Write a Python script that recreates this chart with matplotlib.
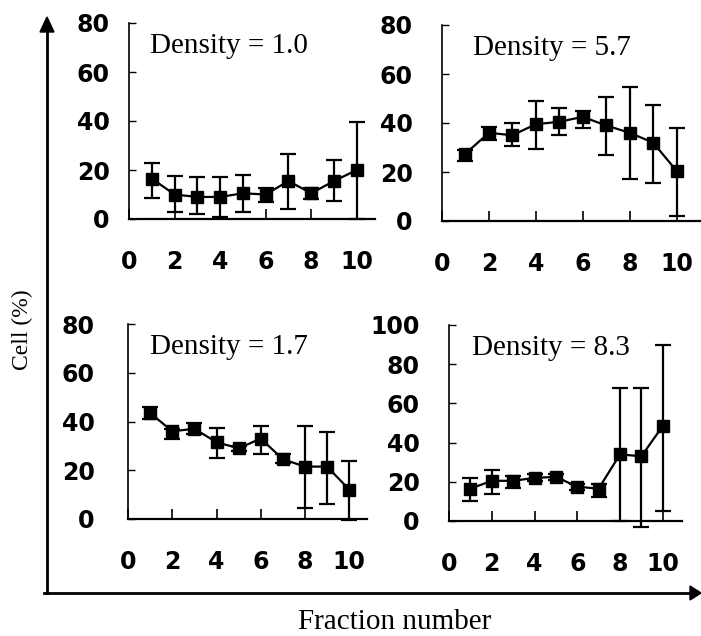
import matplotlib.pyplot as plt
from matplotlib.patches import Polygon

fractions = [1, 2, 3, 4, 5, 6, 7, 8, 9, 10]

# density 1.0
d10_mean = [16.5, 10, 9, 9, 10.5, 10, 15.5, 10.5, 15.5, 20]
d10_low = [8.5, 3, 2, 1, 3, 7, 4, 8, 7.5, 0]
d10_high = [23, 17.5, 17, 17, 18, 12.5, 26.5, 12.5, 24, 39.5]

# density 5.7
d57_mean = [27.5, 36, 35, 39.5, 40.5, 42.5, 39, 36, 32, 20.5]
d57_low = [24.5, 33, 30.5, 29.5, 35, 38, 27, 17, 15.5, 2]
d57_high = [29, 38.5, 40, 49, 46, 45, 50.5, 54.5, 47.5, 38]

# density 1.7
d17_mean = [43.5, 36, 37, 31.5, 29, 33, 24.5, 21.5, 21.5, 12]
d17_low = [41, 33, 35, 25, 28, 26.5, 23, 4.5, 6, -0.5]
d17_high = [46, 37, 39.5, 37.5, 30, 38, 26.5, 38, 35.5, 24]

# density 8.3
d83_mean = [16.5, 20.5, 20.5, 22, 22.5, 17.5, 16.5, 34, 33, 48.5]
d83_low = [10, 14, 17, 20.5, 21, 16, 12, 0, -3, 5]
d83_high = [22, 26, 23, 24, 24, 19, 19, 68, 68, 90]

W, H = 701, 636
fig = plt.figure(figsize=(W / 100, H / 100), dpi=100)

serif = "Liberation Serif"


def px_axes(left, right, top, bottom):
    return fig.add_axes([left / W, 1 - bottom / H, (right - left) / W, (bottom - top) / H])


panels = [
    # (pixel box, xmax, ymax, yticks, label, label x, mean, low, high, ypad)
    ((129, 375, 23, 219), 10.8, 80, [0, 20, 40, 60, 80], "Density = 1.0", 0.085,
     d10_mean, d10_low, d10_high, 14),
    ((442, 700, 25, 221), 11.0, 80, [0, 20, 40, 60, 80], "Density = 5.7", 0.12,
     d57_mean, d57_low, d57_high, 21),
    ((128, 367, 324, 519), 10.8, 80, [0, 20, 40, 60, 80], "Density = 1.7", 0.09,
     d17_mean, d17_low, d17_high, 24),
    ((449, 682, 325, 521), 10.9, 100, [0, 20, 40, 60, 80, 100], "Density = 8.3", 0.10,
     d83_mean, d83_low, d83_high, 21),
]

for box, xmax, ymax, yticks, label, lx, mean, low, high, ypad in panels:
    ax = px_axes(*box)
    yerr = [[m - lo for m, lo in zip(mean, low)], [hi - m for m, hi in zip(mean, high)]]
    ax.errorbar(fractions, mean, yerr=yerr, color="black", lw=1.6, elinewidth=1.6,
                capsize=6, capthick=1.6, marker="s", markersize=9, clip_on=False)
    ax.set_xlim(0, xmax)
    ax.set_ylim(0, ymax)
    ax.set_xticks([0, 2, 4, 6, 8, 10])
    ax.set_yticks(yticks)
    ax.spines["top"].set_visible(False)
    ax.spines["right"].set_visible(False)
    ax.spines["left"].set_linewidth(1.2)
    ax.spines["bottom"].set_linewidth(1.6)
    ax.tick_params(axis="x", direction="in", length=7, width=1.2, pad=22)
    ax.tick_params(axis="y", direction="in", length=5, width=1.0, pad=ypad)
    for t in ax.get_xticklabels() + ax.get_yticklabels():
        t.set_family("DejaVu Sans")
        t.set_weight("bold")
        t.set_size(17)
    ax.text(lx, 0.95, label, transform=ax.transAxes, family=serif, fontsize=21,
            ha="left", va="top")

# outer arrows and labels
ov = fig.add_axes([0, 0, 1, 1], facecolor="none")
ov.set_xlim(0, W)
ov.set_ylim(H, 0)
ov.axis("off")
ov.plot([47, 47], [593, 30], color="black", lw=2)
ov.add_patch(Polygon([[47, 17], [40, 32], [54, 32]], closed=True, color="black"))
ov.plot([44, 692], [593, 593], color="black", lw=2)
ov.add_patch(Polygon([[701, 593], [690, 586], [690, 600]], closed=True, color="black"))
ov.text(22, 330, "Cell (%)", rotation=90, family=serif, fontsize=17, ha="center", va="center")
ov.text(395, 622, "Fraction number", family=serif, fontsize=21, ha="center", va="center")

fig.savefig("out.png", dpi=100)
